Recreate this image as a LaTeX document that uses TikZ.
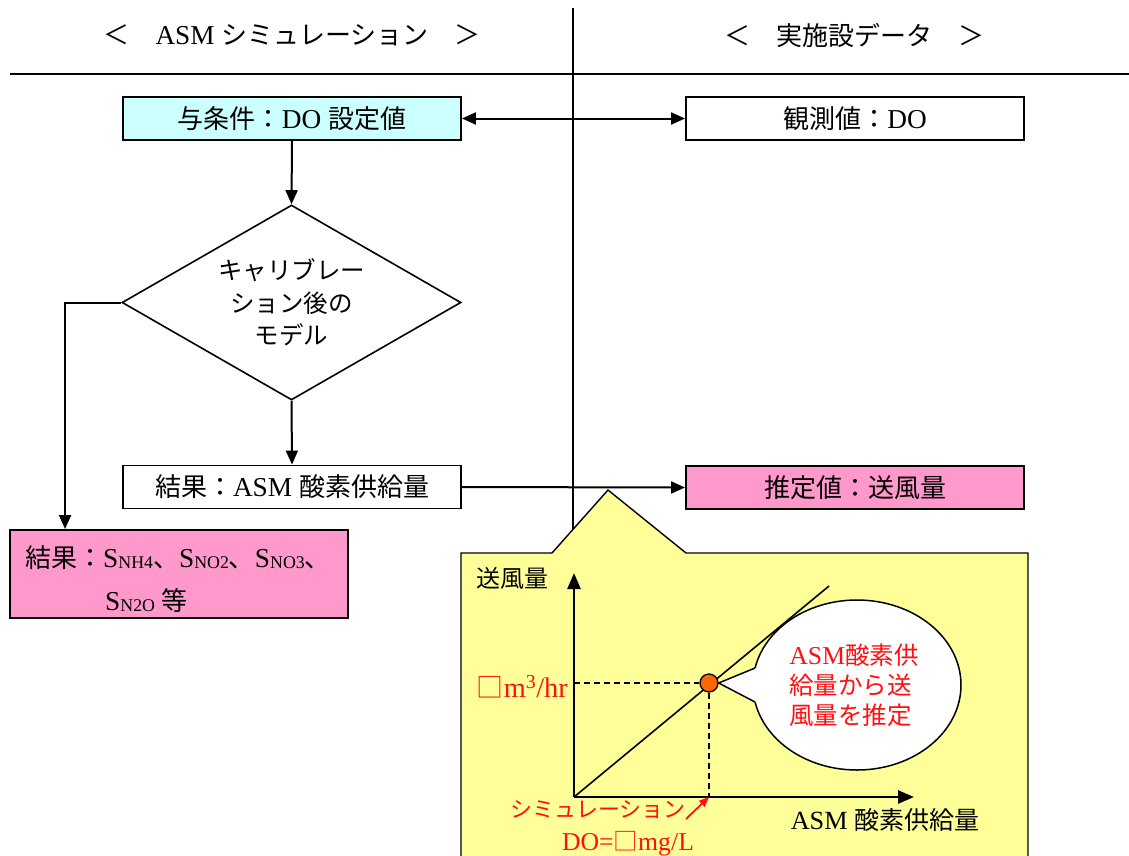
\documentclass[tikz,border=0pt]{standalone}
\usepackage{fontspec}
\setmainfont{Liberation Serif}[Scale=1.05]
\newfontfamily\jpfont{Noto Sans CJK JP}
\newcommand{\J}[1]{{\jpfont #1}}
\usetikzlibrary{shapes.geometric,arrows.meta}
\definecolor{cyanbox}{HTML}{CCFFFF}
\definecolor{pinkbox}{HTML}{FF99CC}
\definecolor{yellowbg}{HTML}{FFFF99}
\definecolor{dotorange}{HTML}{FF6600}
\definecolor{redtxt}{HTML}{FF1010}
\newcommand{\sbs}[1]{\raisebox{-1pt}{\fontsize{17}{17}\selectfont #1}}
\begin{document}
\begin{tikzpicture}[x=1pt,y=-1pt,
  txt/.style={font=\fontsize{25}{30}\selectfont, inner sep=0pt},
  flowbox/.style={draw, line width=1.9pt, minimum width=338pt, minimum height=43pt, inner sep=0pt, font=\fontsize{26}{30}\selectfont},
  arr/.style={line width=2pt, -{Triangle[length=14pt,width=12pt]}},
  darr/.style={line width=2pt, {Triangle[length=14pt,width=12pt]}-{Triangle[length=14pt,width=12pt]}},
  axis/.style={line width=2.6pt, -{Triangle[length=16pt,width=13pt]}},
  redlbl/.style={txt, text=redtxt}]
\useasboundingbox (0,0) rectangle (1129,855);
\fill[white] (0,0) rectangle (1129,855);

% header
\node[txt, font=\fontsize{26}{30}\selectfont] (hl) at (292,35) {\J{＜　}ASM\ \J{シミュレーション　＞}};
\node[txt, font=\fontsize{26}{30}\selectfont] (hr) at (854,35) {\J{＜　実施設データ　＞}};
\draw[line width=1.9pt] (10,74) -- (1129,74);
\draw[line width=1.4pt] (573,8) -- (573,545);

% flow boxes
\node[flowbox, fill=cyanbox] (cond) at (292,118.5) {\J{与条件：}DO\ \J{設定値}};
\node[flowbox, fill=white] (obs) at (855,118.5) {\J{観測値：}DO};
\node[draw, line width=1.6pt, diamond, shape aspect=1.74, minimum width=339pt, minimum height=195pt, inner sep=0pt, align=center, font=\fontsize{24.5}{32.5}\selectfont\jpfont] (dia) at (291.5,302.5) {キャリブレー\\ション後の\\モデル};
\node[flowbox, fill=white] (res) at (292,487) {\J{結果：}ASM\ \J{酸素供給量}};
\node[flowbox, fill=pinkbox] (est) at (855,487.5) {\J{推定値：送風量}};
\node[flowbox, fill=pinkbox, minimum height=88pt] (pk) at (179,574) {};
\node[txt, font=\fontsize{26}{30}\selectfont, anchor=west] (pk1) at (25,558) {\J{結果：}S\sbs{NH4}\J{、}S\sbs{NO2}\J{、}S\sbs{NO3}\J{、}};
\node[txt, font=\fontsize{26}{30}\selectfont, anchor=west] (pk2) at (105,601) {S\sbs{N2O}\ \J{等}};

% connectors
\draw[darr] (cond.east) -- (obs.west);
\draw[arr] (cond.south) -- (dia.north);
\draw[arr] (dia.south) -- (res.north);
\path (pk.north west) ++(56,0) coordinate (pktop);
\draw[arr] (dia.west) -| (pktop);

% yellow callout
\fill[yellowbg] (461,860) -- (461,553) -- (552,553) -- (608,490) -- (686,553) -- (1028,553) -- (1028,860) -- cycle;
\draw[line width=1.4pt] (461,860) -- (461,553) -- (552,553) -- (608,490) -- (686,553) -- (1028,553) -- (1028,860);
\draw[arr] (res.east) -- (est.west);

% graph
\coordinate (O) at (574,797);
\coordinate (ytop) at (574,573);
\coordinate (xend) at (914,797);
\coordinate (diagend) at (829,586);
\draw[axis] (O) -- (ytop);
\draw[axis] (O) -- (xend);
\draw[line width=1.6pt] (O) -- (diagend);
\node[txt, font=\fontsize{24}{28}\selectfont] (ylab) at (512,578) {\J{送風量}};
\node[txt] (xlab) at (885,820) {ASM\ \J{酸素供給量}};

% bubble
\node[draw, line width=1.5pt, fill=white, ellipse, minimum width=208pt, minimum height=170pt] (bub) at (857,685) {};
\node[circle, draw, line width=1.3pt, fill=dotorange, minimum size=18pt, inner sep=0pt] (pt) at (709,683) {};
\fill[white] (pt.east) -- (755,668) -- (766,668) -- (766,702) -- (755,702) -- cycle;
\draw[line width=1.5pt] (755,668) -- (pt.east) -- (755,702);
\node[redlbl, align=left, font=\fontsize{24.5}{30}\selectfont] (bubtxt) at (854,685) {ASM\J{酸素供}\\\J{給量から送}\\\J{風量を推定}};

\draw[line width=1.4pt, dash pattern=on 6pt off 4pt] (O |- pt) -- (pt.west);
\draw[line width=1.4pt, dash pattern=on 6pt off 4pt] (pt.south) -- (pt |- O);

\node[redlbl, anchor=east, font=\fontsize{27}{30}\selectfont] (ylbl) at (568,687) {\J{□}m\textsuperscript{3}/hr};
\node[redlbl, font=\fontsize{22}{26}\selectfont] (simlbl) at (598,810) {\J{シミュレーション}};
\coordinate (sarr) at (686,819);
\draw[redtxt, line width=1.8pt, -{Triangle[length=10pt,width=8pt]}] (sarr) -- (pt |- O);
\node[redlbl, font=\fontsize{24.5}{28}\selectfont] (dolbl) at (628,844) {DO=\J{□}mg/L};
\end{tikzpicture}
\end{document}
